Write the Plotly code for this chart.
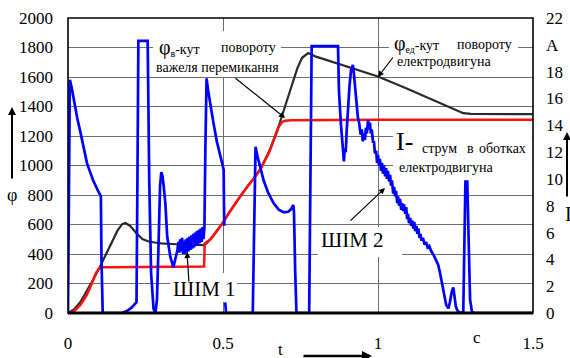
import plotly.graph_objects as go

# ---------------- data ----------------
t_red = [0, 0.02, 0.04, 0.06, 0.075, 0.09, 0.10, 0.11, 0.13, 0.2, 0.3, 0.4, 0.439,
         0.441, 0.46, 0.48, 0.50, 0.52, 0.55, 0.58, 0.60, 0.62, 0.65, 0.68, 0.69, 0.70,
         0.72, 0.8, 1.0, 1.2, 1.5]
phi_red = [0, 12, 55, 120, 190, 270, 303, 310, 311, 312, 313, 315, 316,
           472, 500, 555, 612, 680, 775, 860, 912, 970, 1095, 1262, 1295, 1303,
           1307, 1309, 1310, 1311, 1311]

t_black = [0, 0.02, 0.04, 0.06, 0.08, 0.10, 0.12, 0.14, 0.16, 0.175, 0.185, 0.20,
           0.22, 0.24, 0.26, 0.28, 0.30, 0.35, 0.40, 0.44, 0.45, 0.46, 0.48, 0.50,
           0.52, 0.55, 0.58, 0.60, 0.62, 0.65, 0.68, 0.70, 0.71, 0.72, 0.74, 0.755,
           0.775, 0.80, 0.85, 0.90, 0.95, 1.0, 1.1, 1.2, 1.275, 1.3, 1.5]
phi_black = [0, 25, 75, 145, 222, 300, 385, 470, 560, 603, 610, 592,
             542, 502, 485, 478, 472, 466, 462, 460, 478, 502, 558, 615,
             682, 776, 862, 914, 975, 1100, 1268, 1400, 1464, 1530, 1660, 1730,
             1762, 1738, 1703, 1670, 1637, 1603, 1515, 1425, 1355, 1350, 1348]

t_blue = [0, 0.002, 0.006, 0.012, 0.02, 0.03, 0.039, 0.05, 0.061, 0.07, 0.081, 0.095,
          0.106, 0.108, 0.112, 0.175, 0.19, 0.205, 0.221, 0.224, 0.227, 0.257, 0.262,
          0.268, 0.276, 0.282, 0.287, 0.292, 0.297, 0.301, 0.305, 0.308, 0.314, 0.320,
          0.330, 0.340, 0.345, 0.350,
          0.353, 0.356, 0.359, 0.362, 0.365, 0.368, 0.371, 0.374, 0.377, 0.380, 0.383,
          0.386, 0.389, 0.392, 0.395, 0.398, 0.401, 0.404, 0.407, 0.410, 0.413, 0.416,
          0.419, 0.422, 0.425, 0.428, 0.431, 0.434, 0.437, 0.440,
          0.443, 0.447, 0.452, 0.46, 0.469, 0.48, 0.492, 0.502, 0.504, None, 0.507, 0.51,
          0.596, 0.600, 0.605, 0.612, 0.62, 0.631, 0.645, 0.663, 0.68, 0.696, 0.71,
          0.718, 0.727, 0.729, 0.733, 0.737, 0.778, 0.782, 0.786, 0.871, 0.874, 0.880,
          0.887, 0.890, 0.893, 0.896, 0.899, 0.903, 0.908, 0.913, 0.919, 0.922, 0.926,
          0.929, 0.932, 0.935, 0.939,
          0.940, 0.944, 0.948, 0.951, 0.955, 0.958, 0.961, 0.964, 0.968, 0.971, 0.974,
          0.977, 0.980, 0.984, 0.987, 0.990, 0.994, 0.997, 1.000, 1.003, 1.006, 1.010,
          1.013, 1.016, 1.019, 1.023, 1.026, 1.029, 1.032, 1.036, 1.039, 1.042, 1.045,
          1.049, 1.052, 1.055, 1.058, 1.062, 1.065, 1.068, 1.071, 1.075, 1.078, 1.081,
          1.084, 1.088, 1.091, 1.094, 1.097, 1.100, 1.104, 1.107, 1.110, 1.114, 1.117,
          1.120, 1.124, 1.127, 1.130, 1.134, 1.137, 1.140, 1.145, 1.150, 1.155, 1.160,
          1.165, 1.172, 1.180, 1.188, 1.194, 1.200, 1.204, 1.209, 1.214, 1.220, 1.227,
          1.232, 1.238, 1.243, 1.247, 1.251, 1.256, 1.262, 1.275, 1.279, 1.282, 1.288,
          1.292, 1.297, 1.303, 1.31, 1.5]
i_blue = [0, 8, 17.4, 16.8, 15.7, 14.5, 13.6, 12.3, 11.2, 10.6, 9.9, 9.2,
          8.7, 4.0, 0, 0, 0.15, 0.4, 0.8, 10, 20.3, 20.3, 10,
          3, 0.3, 0, 1, 5, 9.5, 10.5, 10.2, 9.6, 8.2, 5.7,
          4.2, 3.4, 3.8, 4.4,
          4.7, 5.3, 4.5, 5.5, 4.6, 5.6, 4.4, 5.4, 4.4, 5.5, 4.5,
          5.6, 4.6, 5.7, 4.7, 5.8, 4.8, 5.9, 4.9, 6.0, 5.0, 6.1,
          5.1, 6.2, 5.2, 6.3, 5.3, 6.4, 5.5, 6.3,
          12, 17.5, 16.6, 15.3, 14.2, 12.8, 11.6, 10.7, 6.5, None, 0.8, 0,
          0, 6, 12.4, 11.6, 10.8, 9.9, 9.0, 8.2, 7.7, 7.5, 7.55,
          7.7, 8.05, 7.5, 3, 0, 0, 10, 19.9, 19.9, 16.6, 14.2,
          11.9, 11.3, 12.3, 12.0, 13.6, 15.4, 16.9, 18.1, 18.5, 17.9, 16.8,
          15.9, 15.1, 14.6, 14.2,
          14.0, 13.3, 13.7, 12.8, 13.4, 12.9, 13.8, 13.4, 14.4, 13.7, 14.2,
          13.4, 13.7, 12.7, 12.8, 11.9, 12.1, 11.2, 11.8, 11.0, 11.5, 10.6,
          11.2, 10.4, 11.0, 10.2, 10.8, 10.0, 10.6, 9.8, 10.3, 9.5, 9.9,
          8.9, 9.4, 8.7, 9.1, 8.2, 8.7, 8.0, 8.5, 7.7, 8.2, 7.6,
          8.1, 7.4, 7.9, 7.0, 7.4, 6.7, 7.1, 6.5, 6.9, 6.3, 6.8,
          6.1, 6.5, 5.9, 6.3, 5.6, 5.9, 5.4, 5.6, 5.1, 5.3, 4.9,
          5.0, 4.6, 4.3, 3.9, 3.6, 3.0, 2.5, 1.8, 1.1, 0.6, 0.35,
          0.8, 1.6, 1.9, 1.2, 0.5, 0.2, 0.05, 0, 5, 9.8, 9.8,
          5, 1, 0.1, 0, 0]

x_tick_vals = [0, 0.5, 1, 1.5]
x_tick_text = ["0", "0.5", "1", "1.5"]
phi_tick_vals = [0, 200, 400, 600, 800, 1000, 1200, 1400, 1600, 1800, 2000]
i_tick_vals = [0, 2, 4, 6, 8, 10, 12, 14, 16, 18, 20, 22]
i_tick_text = ["0", "2", "4", "6", "8", "10", "12", "14", "16", "18", "A", "22"]

# ---------------- layout helpers (pixel -> paper) ----------------
W, H = 570, 358
L, R, T, B = 68, 533, 18, 313
FONT = "Liberation Serif, Times New Roman, DejaVu Serif, serif"


def px(x):
    return (x - L) / (R - L)


def py(y):
    return (B - y) / (B - T)


fig = go.Figure()
fig.add_trace(go.Scatter(x=t_black, y=phi_black, mode="lines",
                         line=dict(color="#2a2a2a", width=2.2), hoverinfo="skip"))
fig.add_trace(go.Scatter(x=t_red, y=phi_red, mode="lines",
                         line=dict(color="#ff1010", width=2.5), hoverinfo="skip"))
fig.add_trace(go.Scatter(x=t_blue, y=i_blue, mode="lines", yaxis="y2", connectgaps=False,
                         line=dict(color="#0000ff", width=2.7), hoverinfo="skip"))

shapes = []


def white_box(x0, y0, x1, y1):
    shapes.append(dict(type="rect", xref="paper", yref="paper", layer="above",
                       x0=px(x0), x1=px(x1), y0=py(y1), y1=py(y0),
                       fillcolor="white", line=dict(width=0)))


white_box(153, 31, 281, 77)
white_box(389, 31, 518, 71)
white_box(393, 127, 532, 177)
white_box(170, 273, 237, 302)
white_box(318, 227, 402, 257)

shapes.append(dict(type="rect", xref="paper", yref="paper", layer="above",
                   x0=0, x1=1, y0=0, y1=1, line=dict(color="black", width=1.6)))
shapes.append(dict(type="line", xref="paper", yref="paper", layer="above",
                   x0=0, x1=1, y0=0, y1=0, line=dict(color="black", width=3)))

annotations = []


def txt(text, x, y, size=14, xanchor="left"):
    annotations.append(dict(text=text, x=px(x), y=py(y), xref="paper", yref="paper",
                            showarrow=False, xanchor=xanchor, yanchor="middle",
                            font=dict(family=FONT, size=size, color="black")))


def arrow(x0, y0, x1, y1, width=1.2, head=2, size=1.0):
    annotations.append(dict(text="", x=px(x1), y=py(y1), xref="paper", yref="paper",
                            ax=x0 - x1, ay=y0 - y1, axref="pixel", ayref="pixel",
                            showarrow=True, arrowhead=head, arrowsize=size,
                            arrowwidth=width, arrowcolor="black"))


phi_big = '<span style="font-size:20px">φ</span>'
txt(phi_big + "<sub>в</sub>-кут", 157, 47)
txt("повороту", 278, 48, xanchor="right")
txt("важеля перемикання", 217, 67, xanchor="center")

txt(phi_big + "<sub>ед</sub>-кут", 392, 43)
txt("повороту", 514, 44, xanchor="right")
txt("електродвигуна", 395, 62)

txt("I-", 394, 141, size=26)
txt("струм", 420, 148)
txt("в", 470, 148, xanchor="center")
txt("оботках", 528, 148, xanchor="right")
txt("електродвигуна", 397, 167)

txt("ШІМ 1", 204, 289, size=21, xanchor="center")
txt("ШІМ 2", 352, 240, size=21, xanchor="center")

txt("φ", 12, 195, size=18, xanchor="center")
txt("t", 280, 349, size=17, xanchor="center")
txt("c", 477, 337, size=17, xanchor="center")
txt("I", 563, 214, size=20)

arrow(234, 77, 285, 118)
arrow(394, 56, 378, 77)
arrow(189, 283, 187, 252)
arrow(349, 222, 385, 188)
arrow(12, 180, 12, 107, width=2, head=2, size=0.8)
arrow(567, 198, 567, 132, width=2, head=2, size=0.8)
arrow(302, 356, 372, 356, width=2.5, head=2, size=0.8)

tick_font = dict(family=FONT, size=17, color="black")
fig.update_layout(
    width=W, height=H,
    margin=dict(l=L, r=W - R, t=T, b=H - B, pad=0, autoexpand=False),
    paper_bgcolor="white", plot_bgcolor="white",
    showlegend=False,
    xaxis=dict(range=[0, 1.5], tickvals=x_tick_vals, ticktext=x_tick_text,
               showgrid=True, gridcolor="#6e6e6e", gridwidth=1, zeroline=False,
               showline=False, ticks="", tickfont=tick_font, ticklabelstandoff=18,
               automargin=False),
    yaxis=dict(range=[0, 2000], tickvals=phi_tick_vals, showgrid=True,
               gridcolor="#6e6e6e", gridwidth=1, zeroline=False, showline=False,
               ticks="", tickfont=tick_font, ticklabelstandoff=14, automargin=False),
    yaxis2=dict(range=[0, 22], overlaying="y", side="right", tickvals=i_tick_vals,
                ticktext=i_tick_text, showgrid=False, zeroline=False, showline=False,
                ticks="", tickfont=tick_font, ticklabelstandoff=12, automargin=False),
    shapes=shapes,
    annotations=annotations,
)

fig.write_html("out.html", config={"displayModeBar": False},
               post_script="document.body.style.margin='0';")
